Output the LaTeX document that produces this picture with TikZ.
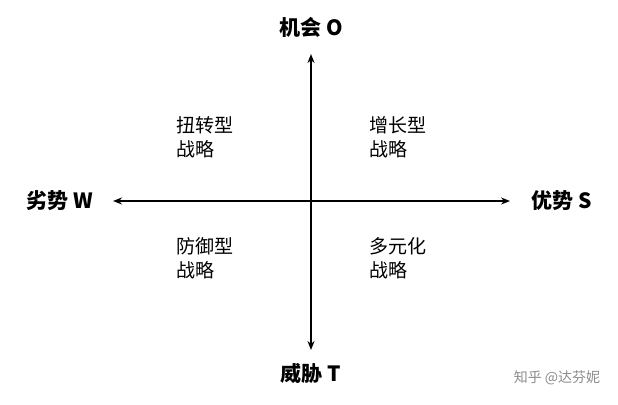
\documentclass[tikz,border=0pt]{standalone}
\usepackage{fontspec}
\newfontfamily\cjk{Noto Sans CJK SC}
\usetikzlibrary{arrows.meta}
\begin{document}
\begin{tikzpicture}[x=1pt,y=1pt,
  ax/.style={line width=1.6pt,{Stealth[length=9pt,width=7pt]}-{Stealth[length=9pt,width=7pt]}},
  lab/.style={font=\cjk\fontsize{21}{24}\selectfont\bfseries},
  quad/.style={font=\cjk\fontsize{19}{24}\selectfont,align=left}]
\useasboundingbox (0,0) rectangle (618,404);
\fill[white] (0,0) rectangle (618,404);
\coordinate (top) at (311,350);
\coordinate (bot) at (311,54);
\coordinate (lft) at (113,203);
\coordinate (rgt) at (510,203);
\draw[ax] (bot) -- (top);
\draw[ax] (lft) -- (rgt);
\node[lab] (o) at (311,377) {机会 O};
\node[lab] (t) at (311,31) {威胁 T};
\node[lab] (w) at (60,203) {劣势 W};
\node[lab] (s) at (562,203) {优势 S};
\node[quad] (q1) at (205,267) {扭转型\\战略};
\node[quad] (q2) at (398,267) {增长型\\战略};
\node[quad] (q3) at (205,146) {防御型\\战略};
\node[quad] (q4) at (398,146) {多元化\\战略};
\node[font=\cjk\fontsize{14}{16}\selectfont,text=black!45] (wm) at (557,26) {知乎 @达芬妮};
\end{tikzpicture}
\end{document}
